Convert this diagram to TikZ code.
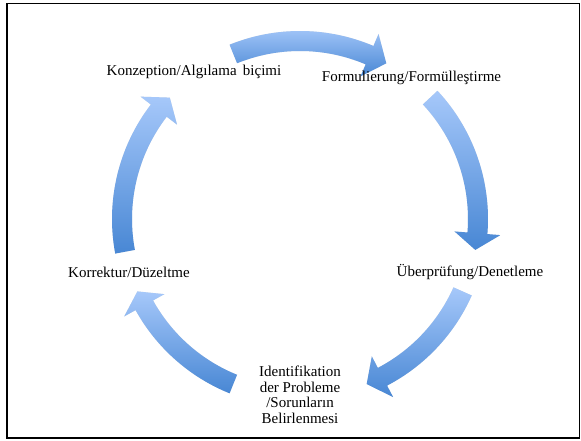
\documentclass[tikz,border=0pt]{standalone}
\usepackage{fontspec}
\setmainfont{Liberation Serif}
\usetikzlibrary{calc}
\definecolor{arrlight}{RGB}{166,200,250}
\definecolor{arrdark}{RGB}{72,135,212}
\def\rMid{178pt}
\def\rOut{188pt}
\def\rIn{168pt}
\def\rHo{201pt}
\def\rHi{155pt}
% #1 style, #2 tail angle, #3 barb angle, #4 tip angle
\newcommand\cyclearrow[4]{%
  \path[#1] ($(C)+(#2:\rOut)$) arc[start angle=#2, end angle=#3, radius=\rOut]
    -- ($(C)+(#3:\rHo)$) -- ($(C)+(#4:\rMid)$) -- ($(C)+(#3:\rHi)$)
    -- ($(C)+(#3:\rIn)$) arc[start angle=#3, end angle=#2, radius=\rIn] -- cycle;}
\tikzset{
  arrowbody/.style={top color=arrlight, bottom color=arrdark, draw=none},
  arrowshadow/.style={fill=black, opacity=0.10, draw=none, shift={(1pt,-2.5pt)}},
  lbl/.style={font=\fontsize{15}{15.5}\selectfont, inner sep=0pt, text=black},
  frame/.style={draw=black, line width=1.5pt}
}
\begin{document}
\begin{tikzpicture}[x=1pt,y=1pt]
\useasboundingbox (0,0) rectangle (581,440);
\fill[white] (0,0) rectangle (581,440);
\draw[frame] (7,436.5) rectangle (579.5,2);
\coordinate (C) at (300,221);
% shadows
\cyclearrow{arrowshadow}{112}{67}{61}
\cyclearrow{arrowshadow}{43}{-4.6}{-10}
\cyclearrow{arrowshadow}{-24}{-62.4}{-68}
\cyclearrow{arrowshadow}{248}{209}{204}
\cyclearrow{arrowshadow}{190.6}{142.5}{137}
% arrows
\cyclearrow{arrowbody}{112}{67}{61}
\cyclearrow{arrowbody}{43}{-4.6}{-10}
\cyclearrow{arrowbody}{-24}{-62.4}{-68}
\cyclearrow{arrowbody}{248}{209}{204}
\cyclearrow{arrowbody}{190.6}{142.5}{137}
% labels
\node[lbl] (konz) at (194,368) {Konzeption/Algılama\, biçimi};
\node[lbl] (form) at (411.5,362) {Formulierung/Formülleştirme};
\node[lbl] (uber) at (470,168) {Überprüfung/Denetleme};
\node[lbl, align=center] (ident) at (300,45) {Identifikation\\der Probleme\\/Sorunların\\Belirlenmesi};
\node[lbl] (korr) at (129,168) {Korrektur/Düzeltme};
\end{tikzpicture}
\end{document}
